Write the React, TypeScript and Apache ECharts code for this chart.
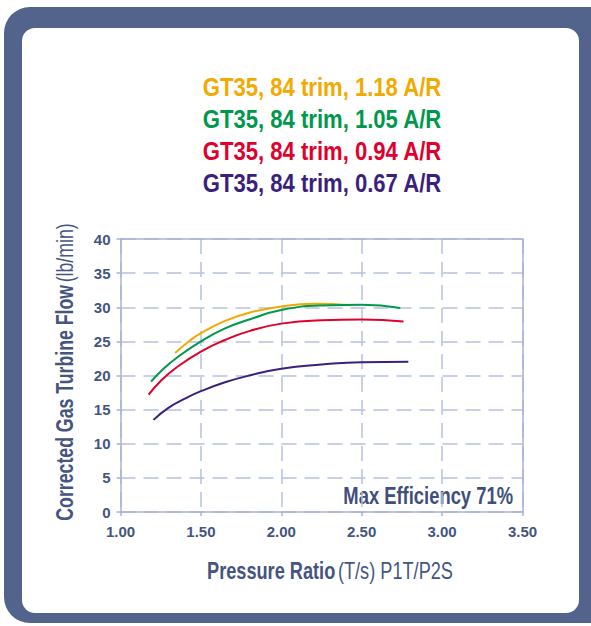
import React, { useEffect, useRef } from "react";
import * as echarts from "echarts";

const seriesNames = [
  "GT35, 84 trim, 1.18 A/R",
  "GT35, 84 trim, 1.05 A/R",
  "GT35, 84 trim, 0.94 A/R",
  "GT35, 84 trim, 0.67 A/R",
];
const seriesColors = ["#F2A900", "#00984C", "#E1002D", "#3B1F7E"];

const xAR118 = [1.34, 1.42, 1.5, 1.65, 1.8, 2.0, 2.2, 2.43];
const yAR118 = [23.3, 24.9, 26.2, 28.0, 29.2, 30.1, 30.5, 30.3];

const xAR105 = [1.19, 1.25, 1.35, 1.5, 1.65, 1.8, 2.0, 2.25, 2.5, 2.74];
const yAR105 = [19.1, 20.6, 22.6, 25.0, 26.9, 28.2, 29.6, 30.25, 30.35, 29.9];

const xAR094 = [1.175, 1.25, 1.35, 1.5, 1.65, 1.8, 2.0, 2.25, 2.5, 2.76];
const yAR094 = [17.2, 19.2, 21.2, 23.5, 25.2, 26.5, 27.6, 28.1, 28.2, 27.9];

const xAR067 = [1.205, 1.3, 1.4, 1.5, 1.65, 1.8, 2.0, 2.25, 2.5, 2.79];
const yAR067 = [13.5, 15.3, 16.6, 17.7, 19.0, 20.0, 21.0, 21.6, 21.95, 22.0];

const xValues = [xAR118, xAR105, xAR094, xAR067];
const yValues = [yAR118, yAR105, yAR094, yAR067];

const xMin = 1.0;
const xMax = 3.5;
const xStep = 0.5;
const yMin = 0;
const yMax = 40;
const yStep = 5;

const yTitleBold = "Corrected Gas Turbine Flow";
const yTitleUnit = "(lb/min)";
const xTitleBold = "Pressure Ratio";
const xTitleUnit = "(T/s) P1T/P2S";
const noteText = "Max Efficiency 71%";

const FONT = "'Liberation Sans', Arial, sans-serif";
const INK = "#44557F";
const GRID = "#B7C1E0";
const AXIS = "#A6B2D8";
const FRAME = "#52648C";

export default function App() {
  const ref = useRef<HTMLDivElement>(null);

  useEffect(() => {
    if (!ref.current) return;
    const chart = echarts.init(ref.current, undefined, { renderer: "svg" });

    const series = seriesNames.map((name, i) => ({
      name,
      type: "line",
      xAxisIndex: 0,
      yAxisIndex: 0,
      data: xValues[i].map((x, k) => [x, yValues[i][k]]),
      smooth: 0.5,
      symbol: "none",
      showSymbol: false,
      lineStyle: { color: seriesColors[i], width: 2 },
      itemStyle: { color: seriesColors[i] },
      z: 5,
    }));

    const legendTexts = seriesNames.map((n, i) => ({
      type: "text",
      x: 322,
      y: 86.5 + i * 32,
      scaleX: 0.85,
      style: {
        text: n,
        align: "center",
        verticalAlign: "middle",
        fill: seriesColors[i],
        fontFamily: FONT,
        fontWeight: "bold",
        fontSize: 26,
      },
    }));

    const option: any = {
      animation: false,
      backgroundColor: "transparent",
      grid: { left: 120.5, right: 68.5, top: 239, bottom: 114, containLabel: false },
      xAxis: [
        {
          type: "value",
          min: xMin,
          max: xMax,
          interval: xStep,
          axisLine: { show: true, lineStyle: { color: AXIS, width: 1.5 } },
          axisTick: { show: true, length: 4, lineStyle: { color: AXIS, width: 1.5 } },
          axisLabel: {
            margin: 12,
            color: INK,
            fontFamily: FONT,
            fontWeight: "bold",
            fontSize: 15,
            formatter: (v: number) => v.toFixed(2),
          },
          splitLine: { show: true, lineStyle: { color: GRID, width: 1.5, type: [15, 8] } },
        },
        {
          type: "value",
          position: "top",
          min: xMin,
          max: xMax,
          interval: xStep,
          axisLine: { show: true, onZero: false, lineStyle: { color: AXIS, width: 1.5 } },
          axisTick: { show: false },
          axisLabel: { show: false },
          splitLine: { show: false },
        },
      ],
      yAxis: [
        {
          type: "value",
          min: yMin,
          max: yMax,
          interval: yStep,
          axisLine: { show: true, onZero: false, lineStyle: { color: AXIS, width: 1.5 } },
          axisTick: { show: true, length: 4, lineStyle: { color: AXIS, width: 1.5 } },
          axisLabel: {
            margin: 10,
            color: INK,
            fontFamily: FONT,
            fontWeight: "bold",
            fontSize: 15,
          },
          splitLine: { show: true, lineStyle: { color: GRID, width: 1.5, type: [15, 8] } },
        },
        {
          type: "value",
          position: "right",
          min: yMin,
          max: yMax,
          interval: yStep,
          axisLine: { show: true, onZero: false, lineStyle: { color: AXIS, width: 1.5 } },
          axisTick: { show: false },
          axisLabel: { show: false },
          splitLine: { show: false },
        },
      ],
      graphic: [
        {
          type: "rect",
          z: -10,
          silent: true,
          shape: { x: 4, y: 7, width: 640, height: 616, r: 26 },
          style: { fill: FRAME },
        },
        {
          type: "rect",
          z: -9,
          silent: true,
          shape: { x: 22, y: 28, width: 557, height: 585, r: 13 },
          style: { fill: "#FFFFFF" },
        },
        ...legendTexts,
        {
          type: "text",
          x: 65,
          y: 372,
          rotation: Math.PI / 2,
          scaleX: 0.77,
          style: {
            text: "{b|" + yTitleBold + "} {r|" + yTitleUnit + "}",
            align: "center",
            verticalAlign: "middle",
            fill: INK,
            rich: {
              b: { fontFamily: FONT, fontWeight: "bold", fontSize: 23, fill: INK, color: INK },
              r: { fontFamily: FONT, fontWeight: "normal", fontSize: 23, fill: INK, color: INK },
            },
          },
        },
        {
          type: "text",
          x: 330,
          y: 571,
          scaleX: 0.79,
          style: {
            text: "{b|" + xTitleBold + "} {r|" + xTitleUnit + "}",
            align: "center",
            verticalAlign: "middle",
            fill: INK,
            rich: {
              b: { fontFamily: FONT, fontWeight: "bold", fontSize: 23, fill: INK, color: INK },
              r: { fontFamily: FONT, fontWeight: "normal", fontSize: 23, fill: INK, color: INK },
            },
          },
        },
        {
          type: "text",
          x: 513,
          y: 496,
          scaleX: 0.8,
          style: {
            text: noteText,
            align: "right",
            verticalAlign: "middle",
            fill: "#3F4F7B",
            fontFamily: FONT,
            fontWeight: "bold",
            fontSize: 23,
          },
        },
      ],
      series,
    };

    chart.setOption(option);
    return () => chart.dispose();
  }, []);

  return (
    <div
      ref={ref}
      style={{ position: "fixed", left: 0, top: 0, width: 591, height: 626, background: "#FFFFFF" }}
    />
  );
}
